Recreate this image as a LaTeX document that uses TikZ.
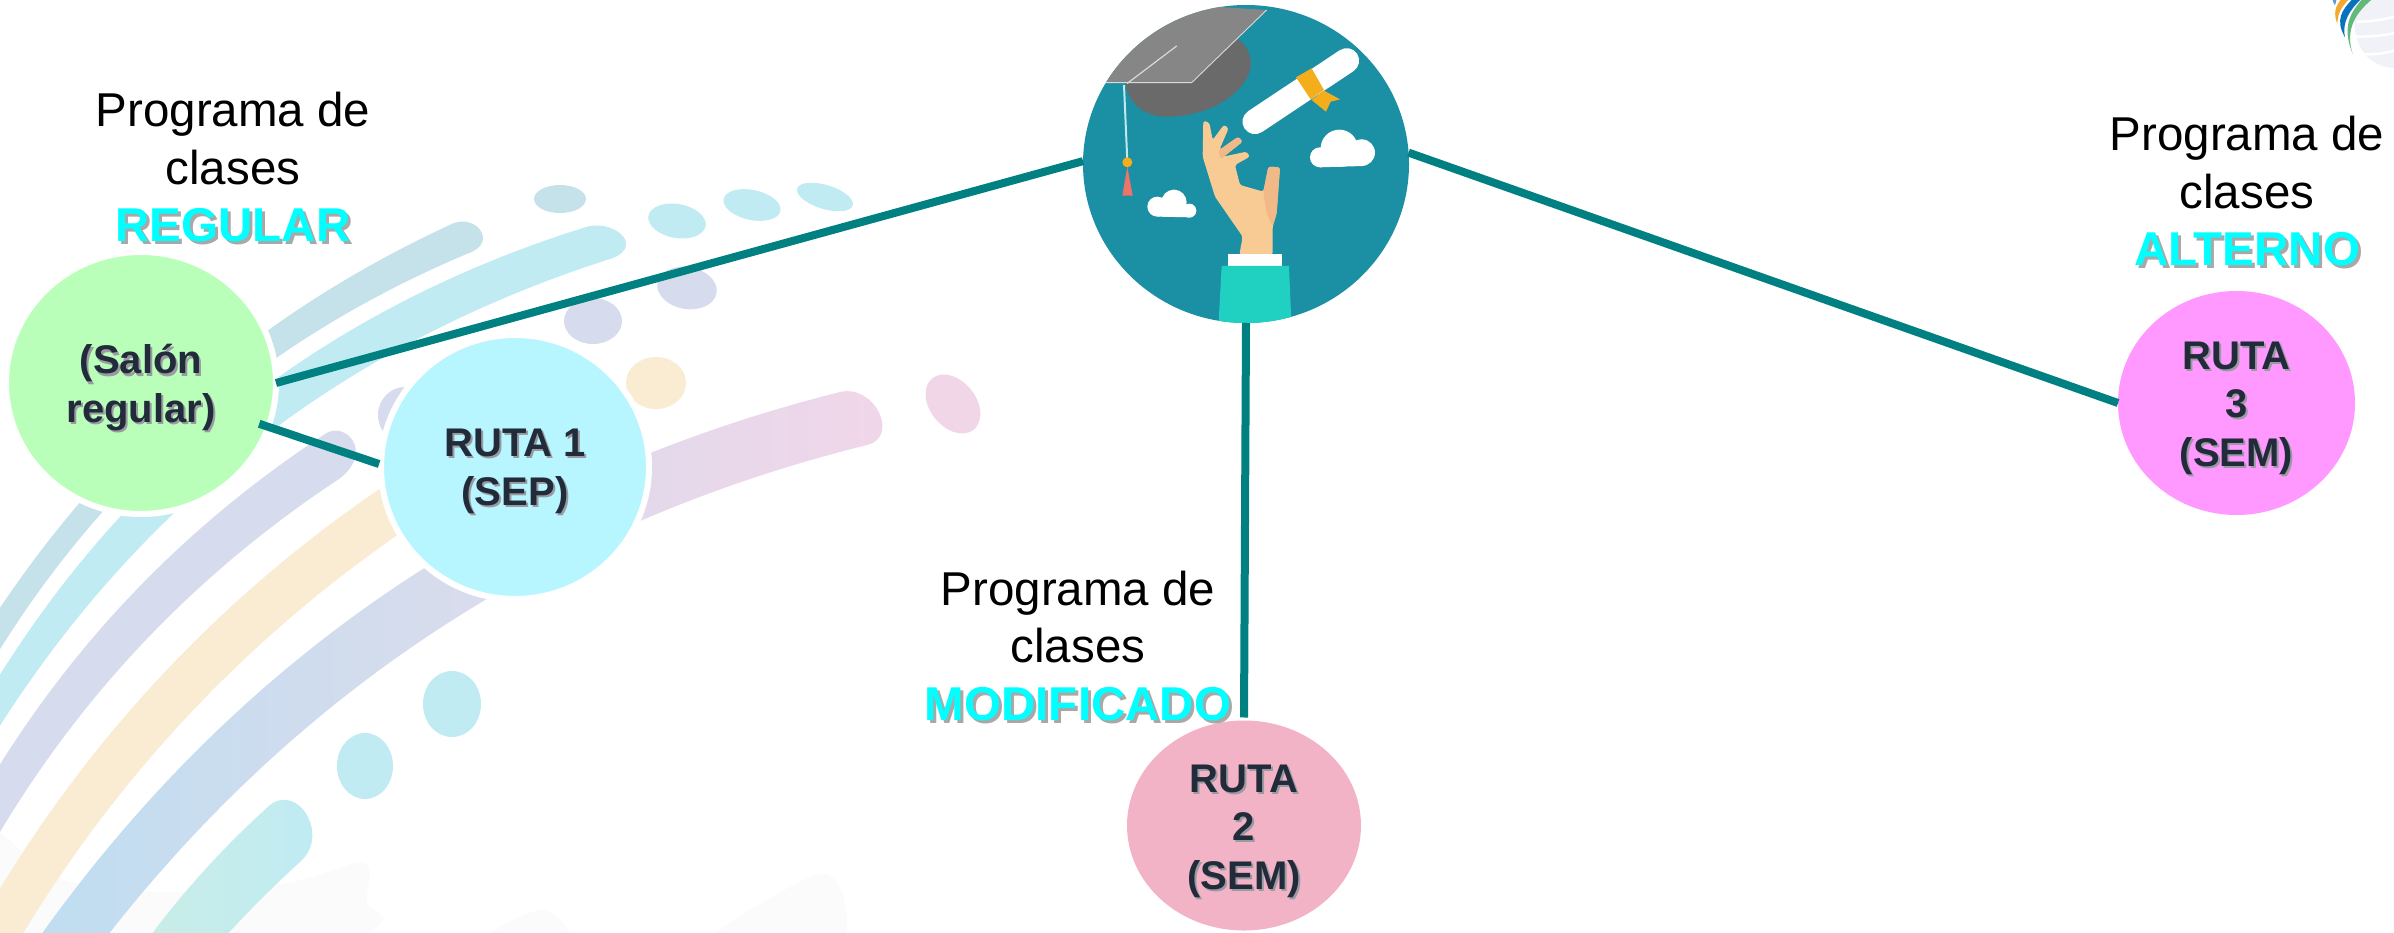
\documentclass[tikz,border=0pt]{standalone}
\usepackage{fontspec}
\setmainfont{Liberation Sans}
\usetikzlibrary{shapes.geometric}
\definecolor{teal1}{HTML}{008080}
\definecolor{bandA}{HTML}{C5E2EA}
\definecolor{bandB}{HTML}{C0EBF3}
\definecolor{bandC}{HTML}{D6DCEE}
\definecolor{bandD}{HTML}{FAEBD3}
\definecolor{bandE1}{HTML}{BEDDF1}
\definecolor{bandE2}{HTML}{D8DCEC}
\definecolor{bandE3}{HTML}{F2D6E9}
\definecolor{bandF1}{HTML}{CAEEE6}
\definecolor{lilac}{HTML}{F1D6E8}
\definecolor{faint}{HTML}{FBFBFB}
\definecolor{inktext}{HTML}{222B3A}
\definecolor{shadowA}{HTML}{A8A8A8}
\definecolor{shadowB}{HTML}{9A9AA2}
\definecolor{aquatext}{HTML}{00FFFF}
\definecolor{logopale}{HTML}{F0F2F7}
\definecolor{logoG}{HTML}{62B97A}
\definecolor{logoB}{HTML}{0A72BC}
\definecolor{logoO}{HTML}{F2A92E}
\definecolor{fillsalon}{HTML}{B9FFB9}
\definecolor{fillone}{HTML}{B8F6FF}
\definecolor{filltwo}{HTML}{F2B3C6}
\definecolor{fillthree}{HTML}{FF99FF}
\definecolor{gradbg}{HTML}{1B8FA3}
\definecolor{capdark}{HTML}{6A6A6A}
\definecolor{captop}{HTML}{868686}
\definecolor{capline}{HTML}{DADADA}
\definecolor{tassel}{HTML}{BFE9EE}
\definecolor{capred}{HTML}{F0736A}
\definecolor{ribbon}{HTML}{F4AE1C}
\definecolor{skin}{HTML}{F8CB94}
\definecolor{skindark}{HTML}{F0B987}
\definecolor{sleeve}{HTML}{20D0C0}
\newcommand{\shbig}[1]{\leavevmode\rlap{\raisebox{-3pt}{\hspace{3pt}\textcolor{shadowA}{#1}}}\textcolor{aquatext}{#1}}
\newcommand{\shin}[1]{\leavevmode\rlap{\raisebox{-2.2pt}{\hspace{2pt}\textcolor{shadowB}{#1}}}\textcolor{inktext}{#1}}
\newcommand{\topgap}[1]{\rule{0pt}{#1}}
\tikzset{
  bubble/.style={ellipse,inner sep=0pt,outer sep=0pt,align=center,font=\fontsize{40}{48.5}\selectfont\bfseries},
  ringed/.style={bubble,draw=white,line width=6pt},
  caption/.style={anchor=base,align=center,inner sep=0pt,font=\fontsize{47.5}{57.5}\selectfont,text=black},
  link/.style={draw=teal1,line width=8pt},
}
\begin{document}
\begin{tikzpicture}[x=1pt,y=-1pt]
\useasboundingbox (0,0) rectangle (2394,933);
\fill[white] (0,0) rectangle (2394,933);
\begin{scope}
\clip (0,0) rectangle (2394,933);
% faint shapes
\fill[faint] plot[smooth cycle,tension=.55] coordinates {(-30,800) (0,832) (64,880) (160,892) (287,883) (364,863) (367,903) (383,920) (344,940) (200,960) (-30,960)};
\fill[faint] plot[smooth cycle,tension=.55] coordinates {(470,950) (542,910) (571,950)};
\fill[faint] plot[smooth cycle,tension=.55] coordinates {(700,950) (816,875) (845,907) (830,950)};
% bands
\fill[bandA] (-30,655) .. controls (86.9,461.3) and (248.3,317.3) .. (454,223) .. controls (478,215) and (497,243) .. (469,253) .. controls (251,344.4) and (84.7,493.4) .. (-30,700) -- cycle;
\fill[bandB] (-30,725) .. controls (108.8,478.5) and (313.2,312.9) .. (583,228) .. controls (612,217) and (645,245) .. (613,258) .. controls (331.8,347.2) and (117.4,519.6) .. (-30,775) -- cycle;
\fill[bandC] (-30,815) .. controls (57.1,659) and (175.5,532) .. (325,434) .. controls (345,420) and (375,452) .. (339,479) .. controls (181.5,582.9) and (58.5,718.3) .. (-30,885) -- cycle;
\fill[bandD] (-30,940) .. controls (83.4,735.2) and (240,571.8) .. (440,450) -- (450,500) .. controls (251.1,625.8) and (96.1,792.4) .. (-15,1000) -- cycle;
\shade[left color=bandE1,right color=bandE3,middle color=bandE2] (20,965) .. controls (220.7,670.1) and (494.1,479.1) .. (840,392) .. controls (875,384) and (900,437) .. (867,445) .. controls (544.3,525) and (283.7,698.4) .. (85,965) -- cycle;
\shade[left color=bandF1,right color=bandB] (130,965) .. controls (170,905) and (220,850) .. (270,805) .. controls (285,793) and (305,803) .. (311,825) .. controls (315,840) and (310,852) .. (302,860) .. controls (275,885) and (245,913) .. (200,965) -- cycle;
% dots
\fill[bandA] (560,199) ellipse [x radius=26,y radius=14];
\fill[bandB] (677,221) ellipse [x radius=29,y radius=17,rotate=-10];
\fill[bandB] (752,205) ellipse [x radius=29,y radius=15,rotate=-12];
\fill[bandB] (825,197) ellipse [x radius=29,y radius=12,rotate=-17];
\fill[bandC] (593,321) ellipse [x radius=29,y radius=23];
\fill[bandC] (687,288) ellipse [x radius=30,y radius=21,rotate=-10];
\fill[bandC] (405,415) ellipse [x radius=27,y radius=28];
\fill[bandD] (656,383) ellipse [x radius=30,y radius=26];
\fill[lilac] (953,404) ellipse [x radius=33,y radius=23,rotate=-51];
\fill[bandB] (365,766) ellipse [x radius=28,y radius=33];
\fill[bandB] (452,704) ellipse [x radius=29,y radius=33];
% logo
\begin{scope}[shift={(2300,0)},x=.3333pt,y=-.3333pt]
\fill[logopale] (170,-5) .. controls (150,90) and (170,200) .. (290,205) -- (290,-5) -- cycle;
\draw[white,line width=2.5pt] (170,65) .. controls (210,65) and (250,60) .. (290,48);
\draw[white,line width=2.5pt] (150,110) .. controls (190,110) and (240,110) .. (290,98);
\draw[white,line width=2.5pt] (165,160) .. controls (200,165) and (240,165) .. (290,150);
\fill[logoG] (187,-3) .. controls (150,40) and (125,80) .. (158,162) .. controls (135,90) and (165,40) .. (217,-3) -- cycle;
\fill[logoB] (158,-3) .. controls (125,30) and (105,60) .. (135,112) .. controls (125,65) and (150,30) .. (183,-3) -- cycle;
\fill[logoO] (124,-3) .. controls (105,20) and (100,40) .. (112,72) .. controls (112,40) and (125,20) .. (148,-3) -- cycle;
\fill[bandC!40!logoB] (97,-3) .. controls (100,8) and (102,12) .. (105,16) .. controls (105,8) and (106,5) .. (110,-3) -- cycle;
\end{scope}
\end{scope}
% main circles
\node[ringed,fill=fillsalon,minimum width=270pt,minimum height=262pt] (salon) at (141,383) {\topgap{41pt}\shin{(Salón}\\\shin{regular)}};
\node[ringed,fill=fillone,minimum width=268pt,minimum height=264pt] (rutaone) at (515,467) {\topgap{38.5pt}\shin{RUTA 1}\\\shin{(SEP)}};
\node[bubble,fill=filltwo,minimum width=234pt,minimum height=207pt] (rutatwo) at (1244,825.5) {\topgap{41pt}\shin{RUTA}\\\shin{2}\\\shin{(SEM)}};
\node[bubble,fill=fillthree,minimum width=237pt,minimum height=224pt] (rutathree) at (2236.5,403) {\topgap{40pt}\shin{RUTA}\\\shin{3}\\\shin{(SEM)}};
\node[ellipse,inner sep=0pt,outer sep=0pt,fill=gradbg,minimum width=326pt,minimum height=318pt] (grad) at (1246,164) {};
% illustration
\begin{scope}
\clip (1246,164) ellipse [x radius=163,y radius=159];
\begin{scope}[shift={(1050,0)},x=.3333pt,y=-.3333pt]
\fill[capdark] (225,250) -- (425,248) -- (560,115) .. controls (600,140) and (615,190) .. (590,235) .. controls (540,320) and (430,350) .. (350,350) .. controls (290,350) and (240,320) .. (225,250) -- cycle;
\fill[captop] (120,248) -- (425,248) -- (650,30) -- (340,10) -- cycle;
\draw[capline,line width=.9pt] (120,248) -- (425,248) -- (650,30);
\draw[capline,line width=1.2pt,line cap=round] (232,250) -- (380,138);
\draw[tassel,line width=2pt] (222,255) -- (232,485);
\fill[capred] (232,500) -- (248,587) -- (217,587) -- cycle;
\fill[ribbon] (232,487) circle [radius=15];
\draw[white,line width=25pt,line cap=round] (615,365) -- (890,182);
\fill[ribbon] (785,300) -- (822,272) -- (870,298) -- (842,305) -- (828,335) -- cycle;
\fill[ribbon] (738,232) -- (785,205) -- (822,270) -- (782,298) -- cycle;
\fill[white] (810,472) circle [radius=30];
\fill[white] (868,445) circle [radius=56];
\fill[white] (935,458) circle [radius=40];
\fill[white] (810,465) -- (940,465) -- (940,498) -- (810,502) -- cycle;
\fill[white] (322,620) circle [radius=30];
\fill[white] (372,607) circle [radius=38];
\fill[white] (418,632) circle [radius=21];
\fill[white] (322,620) -- (418,620) -- (418,652) -- (322,650) -- cycle;
\fill[skin,rounded corners=2.5pt] (460,362) -- (478,368) -- (488,420) -- (522,374) -- (536,385) -- (508,450) -- (565,410) -- (578,425) -- (520,470) -- (590,455) -- (600,470) -- (555,495) -- (570,555) -- (640,575) -- (655,500) -- (690,502) -- (680,640) -- (668,680) -- (668,765) -- (568,765) -- (578,710) -- (495,590) -- (458,470) -- cycle;
\fill[skindark,rounded corners=2.5pt] (640,575) -- (655,500) -- (690,502) -- (680,640) -- (668,680) -- (650,640) -- cycle;
\fill[skindark,rounded corners=2.5pt] (505,452) -- (565,410) -- (578,425) -- (512,478) -- cycle;
\fill[white] (535,762) rectangle (697,800);
\fill[sleeve] (515,798) -- (717,798) -- (725,985) -- (505,985) -- cycle;
\end{scope}
\end{scope}
% connectors
\draw[link] (salon.0) -- (grad.179);
\draw[link,shorten <=-9.5pt,shorten >=2pt] (salon.-19) -- (rutaone.179);
\draw[link] (grad.4) -- (rutathree.180);
\draw[link,shorten >=3pt] (grad.-90) -- (rutatwo.90);
% captions
\node[caption] (capreg) at (233,242) {Programa de\\clases\\\textbf{\shbig{REGULAR}}};
\node[caption] (capmod) at (1078,720) {Programa de\\clases\\\textbf{\shbig{MODIFICADO}}};
\node[caption] (capalt) at (2247,266) {Programa de\\clases\\\textbf{\shbig{ALTERNO}}};
\end{tikzpicture}
\end{document}
